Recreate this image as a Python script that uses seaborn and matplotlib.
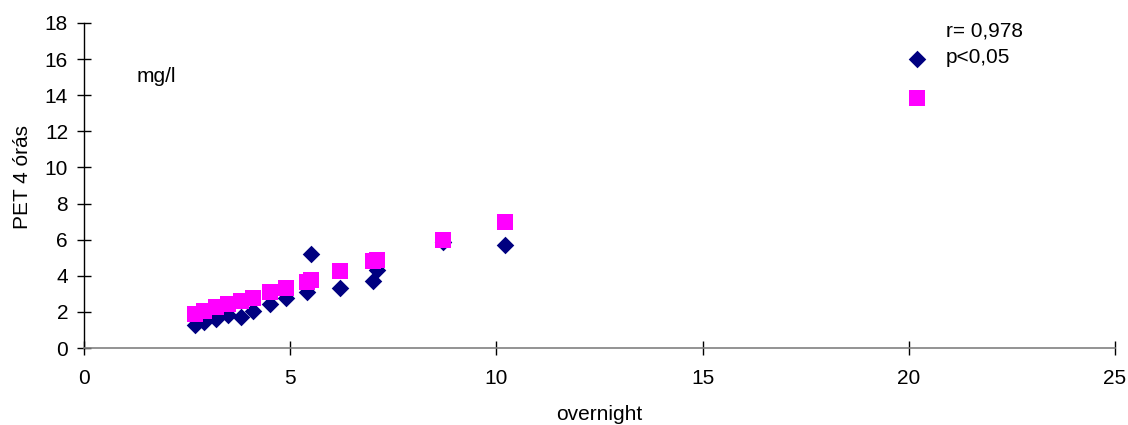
import matplotlib
matplotlib.use("Agg")
import matplotlib.pyplot as plt
import seaborn as sns
import pandas as pd

# overnight values and the two PET 4-hour series (mg/l)
overnight = [2.7, 2.9, 3.2, 3.5, 3.8, 4.1, 4.5, 4.9, 5.4, 5.5, 6.2, 7.0, 7.1, 8.7, 10.2, 20.2]
pet_diamond = [1.3, 1.45, 1.6, 1.85, 1.7, 2.05, 2.45, 2.75, 3.1, 5.2, 3.3, 3.7, 4.3, 5.85, 5.7, 16.0]
pet_square = [1.9, 2.05, 2.25, 2.45, 2.6, 2.75, 3.1, 3.35, 3.65, 3.75, 4.25, 4.8, 4.9, 6.0, 7.0, 13.85]

x_ticks = [0, 5, 10, 15, 20, 25]
y_ticks = [0, 2, 4, 6, 8, 10, 12, 14, 16, 18]

sns.set_style("white")
plt.rcParams["font.family"] = ["Liberation Sans", "DejaVu Sans"]
plt.rcParams["text.color"] = "black"
plt.rcParams["axes.labelcolor"] = "black"

df_d = pd.DataFrame({"overnight": overnight, "pet": pet_diamond})
df_s = pd.DataFrame({"overnight": overnight, "pet": pet_square})

fig = plt.figure(figsize=(11.28, 4.25), dpi=100)
ax = fig.add_axes([0.0745, 0.181, 0.914, 0.765])

sns.scatterplot(data=df_d, x="overnight", y="pet", marker="D", s=80,
                color="#000080", linewidth=0, ax=ax, zorder=3)
sns.scatterplot(data=df_s, x="overnight", y="pet", marker="s", s=125,
                color="#FF00FF", linewidth=0, ax=ax, zorder=4)

ax.set_xlim(0, 25)
ax.set_ylim(0, 18)
ax.set_xticks(x_ticks)
ax.set_yticks(y_ticks)
ax.tick_params(axis="both", bottom=True, left=True, direction="inout",
               length=10, width=1, color="black", labelsize=15,
               labelcolor="black")
ax.tick_params(axis="x", pad=10)
ax.tick_params(axis="y", pad=6.5)

for side in ("top", "right"):
    ax.spines[side].set_visible(False)
ax.spines["left"].set_color("black")
ax.spines["left"].set_linewidth(1)
ax.spines["bottom"].set_color("#808080")
ax.spines["bottom"].set_linewidth(1.2)

ax.set_xlabel("overnight", fontsize=15, labelpad=12)
ax.set_ylabel("PET 4 órás", fontsize=15)
ax.yaxis.set_label_coords(-0.050, 0.526)

ax.text(0.0514, 0.834, "mg/l", transform=ax.transAxes, fontsize=15,
        ha="left", va="center")
ax.text(0.836, 0.975, "r= 0,978", transform=ax.transAxes, fontsize=15,
        ha="left", va="center")
ax.text(0.836, 0.895, "p<0,05", transform=ax.transAxes, fontsize=15,
        ha="left", va="center")

fig.savefig("out.png", dpi=100, facecolor="white")
